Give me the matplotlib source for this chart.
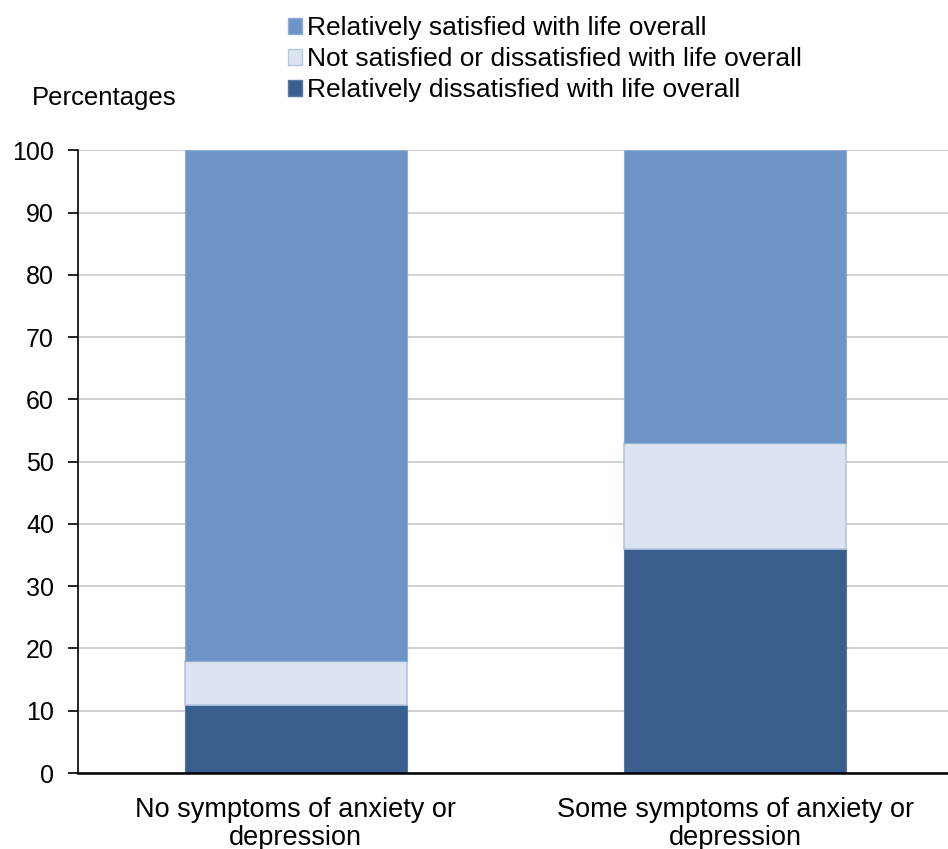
import numpy as np
import matplotlib.pyplot as plt
from matplotlib.patches import Patch

plt.rcParams['font.family'] = ['Liberation Sans', 'DejaVu Sans']

categories = ['No symptoms of anxiety or\ndepression', 'Some symptoms of anxiety or\ndepression']
dissatisfied = [11, 36]
neutral = [7, 17]
satisfied = [82, 47]

series_labels = ['Relatively satisfied with life overall',
                 'Not satisfied or dissatisfied with life overall',
                 'Relatively dissatisfied with life overall']
c_sat = '#6D94C6'
c_neu = '#DAE3EF'
c_dis = '#3A5F8F'

fig = plt.figure(figsize=(9.48, 8.49), dpi=100)
ax = fig.add_axes([0.082, 0.0895, 0.918, 0.7335])

x = np.arange(len(categories))
w = 0.505
bottom_neu = np.array(dissatisfied)
bottom_sat = bottom_neu + np.array(neutral)
ax.bar(x, dissatisfied, w, color=c_dis, edgecolor='#5577A3', linewidth=0.8, zorder=3)
ax.bar(x, neutral, w, bottom=bottom_neu, color=c_neu, edgecolor='#B3C6E0', linewidth=1.2, zorder=3)
ax.bar(x, satisfied, w, bottom=bottom_sat, color=c_sat, edgecolor='#8FACD3', linewidth=0.8, zorder=3)

ax.set_xlim(-0.496, 1.484)
ax.set_ylim(0, 100)
ax.set_yticks(range(0, 101, 10))
ax.yaxis.grid(True, color='#C8C8C8', linewidth=1.2, zorder=0)
ax.set_axisbelow(True)
for s in ['top', 'right']:
    ax.spines[s].set_visible(False)
ax.spines['left'].set_linewidth(1.2)
ax.spines['bottom'].set_linewidth(1.8)
ax.spines['bottom'].set_zorder(4)
ax.tick_params(axis='y', length=7, width=1.2, labelsize=18, pad=10)
ax.tick_params(axis='x', length=0, labelsize=19.5, pad=17)
ax.set_xticks(x)
ax.set_xticklabels(categories, linespacing=1.12)

fig.text(0.034, 0.884, 'Percentages', fontsize=18.5, va='center', ha='left')

handles = [Patch(facecolor=c_sat, edgecolor='#8FACD3'),
           Patch(facecolor=c_neu, edgecolor='#B3C6E0'),
           Patch(facecolor=c_dis, edgecolor='#5577A3')]
fig.legend(handles, series_labels, loc='upper left', bbox_to_anchor=(0.284, 1.003),
           frameon=False, fontsize=19, handlelength=0.55, handleheight=0.55,
           handletextpad=0.2, labelspacing=0.27, borderaxespad=0.3)

fig.savefig('out.png', dpi=100)
